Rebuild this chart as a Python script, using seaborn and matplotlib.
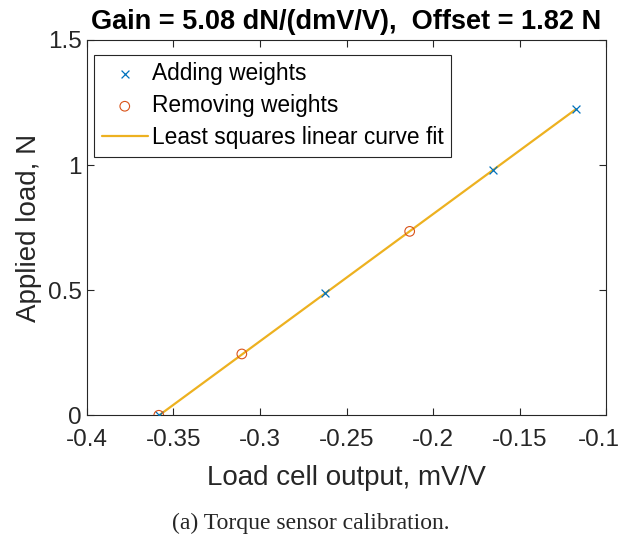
import matplotlib
matplotlib.use("Agg")
import matplotlib.pyplot as plt
import matplotlib.transforms as mtransforms
import seaborn as sns
import numpy as np
import pandas as pd

# Data
add_x = [-0.3585, -0.2625, -0.1655, -0.1175]
add_y = [0.0, 0.490, 0.981, 1.226]
rem_x = [-0.3585, -0.3105, -0.2135]
rem_y = [0.0, 0.245, 0.735]
gain = 5.08
offset = 1.82
fit_x = [-0.3585, -0.1175]
fit_y = [gain * x + offset for x in fit_x]

xticks = [-0.4, -0.35, -0.3, -0.25, -0.2, -0.15, -0.1]
xticklabels = ["-0.4", "-0.35", "-0.3", "-0.25", "-0.2", "-0.15", "-0.1"]
yticks = [0, 0.5, 1, 1.5]
yticklabels = ["0", "0.5", "1", "1.5"]

sns.set_style("white")
plt.rcParams['font.family'] = ['Liberation Sans', 'DejaVu Sans']

fig = plt.figure(figsize=(6.21, 5.40), dpi=100)
ax = fig.add_axes([0.140, 0.231, 0.836, 0.695])

blue = "#0072BD"
orange = "#D95319"
yellow = "#EDB120"
dark = "#262626"

sns.scatterplot(x=add_x, y=add_y, ax=ax, marker="x", color=blue, s=32,
                linewidth=0.9, label="Adding weights", zorder=3)
sns.scatterplot(x=rem_x, y=rem_y, ax=ax, marker="o", facecolor="none",
                edgecolor=orange, s=48, linewidth=0.8, label="Removing weights", zorder=3)
sns.lineplot(x=fit_x, y=fit_y, ax=ax, color=yellow, linewidth=1.6,
             label="Least squares linear curve fit", zorder=2)

ax.set_xlim(-0.4, -0.1)
ax.set_ylim(0, 1.5)
ax.set_xticks(xticks)
ax.set_xticklabels(xticklabels)
ax.set_yticks(yticks)
ax.set_yticklabels(yticklabels)
ax.tick_params(direction="in", length=5, width=0.8, labelsize=17.5, colors=dark,
               top=True, right=True, bottom=True, left=True)
ax.tick_params(axis="x", pad=10)
ax.tick_params(axis="y", pad=4)
for s in ax.spines.values():
    s.set_visible(True)
    s.set_color(dark)
    s.set_linewidth(0.8)

# keep the last x tick label inside the figure edge (as in the reference)
last = ax.get_xticklabels()[-1]
last.set_transform(last.get_transform() +
                   mtransforms.ScaledTranslation(-7 / 100, 0, fig.dpi_scale_trans))

ax.set_xlabel("Load cell output, mV/V", fontsize=20, color=dark, labelpad=10)
ax.set_ylabel("Applied load, N", fontsize=20, color=dark, labelpad=4)
ax.set_title("Gain = 5.08 dN/(dmV/V),  Offset = 1.82 N", fontsize=19.5,
             fontweight="bold", pad=8, color="black")

leg = ax.legend(loc="upper left", bbox_to_anchor=(0.0145, 0.961), fontsize=16.4,
                frameon=True, fancybox=False, edgecolor=dark, borderaxespad=0,
                handlelength=2.0, handletextpad=0.2, labelspacing=0.40,
                borderpad=0.33, framealpha=1)
leg.get_frame().set_linewidth(0.8)
for t in leg.get_texts():
    t.set_color("black")

fig.text(0.5, 1 - 523 / 540, "(a) Torque sensor calibration.", ha="center", va="center",
         fontsize=17, family=["Liberation Serif", "DejaVu Serif"])

fig.savefig("out.png", dpi=100)
